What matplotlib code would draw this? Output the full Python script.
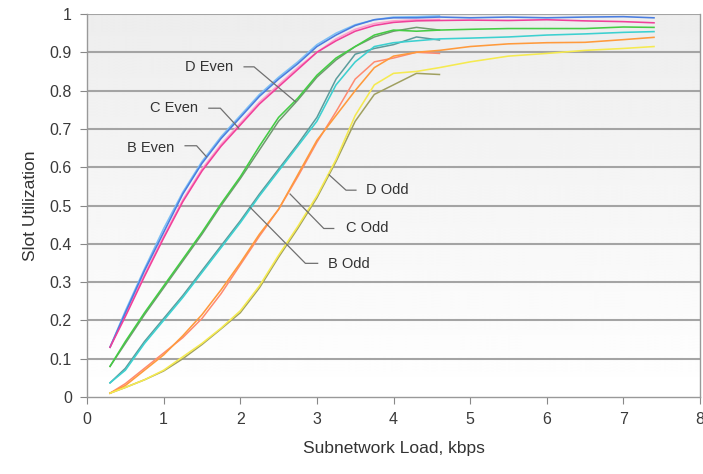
import numpy as np
import matplotlib
matplotlib.use("Agg")
import matplotlib.pyplot as plt

plt.rcParams['font.family'] = ['Liberation Sans', 'DejaVu Sans']

# offered load (kbps); the second run of each scenario stops at 4.6
load = [0.3, 0.5, 0.75, 1.0, 1.25, 1.5, 1.75, 2.0, 2.25, 2.5, 2.75, 3.0,
        3.25, 3.5, 3.75, 4.0, 4.3, 4.6, 5.0, 5.5, 6.0, 6.5, 7.0, 7.4]
load_short = load[:18]

b_even = [0.13, 0.22, 0.33, 0.43, 0.53, 0.61, 0.675, 0.73, 0.785, 0.83, 0.87, 0.915,
          0.945, 0.97, 0.985, 0.99, 0.99, 0.992, 0.99, 0.992, 0.99, 0.992, 0.993, 0.99]
b_even_2 = [0.13, 0.225, 0.335, 0.44, 0.535, 0.615, 0.68, 0.735, 0.79, 0.835, 0.875, 0.92,
            0.95, 0.972, 0.985, 0.992, 0.993, 0.995]
c_even = [0.13, 0.21, 0.315, 0.415, 0.51, 0.59, 0.655, 0.71, 0.765, 0.81, 0.855, 0.90,
          0.93, 0.955, 0.97, 0.978, 0.982, 0.983, 0.984, 0.983, 0.985, 0.982, 0.98, 0.977]
c_even_2 = [0.13, 0.215, 0.32, 0.42, 0.515, 0.595, 0.66, 0.715, 0.77, 0.815, 0.86, 0.90,
            0.935, 0.96, 0.975, 0.982, 0.985, 0.986]
d_even = [0.08, 0.145, 0.22, 0.29, 0.36, 0.43, 0.505, 0.575, 0.655, 0.73, 0.78, 0.84,
          0.885, 0.915, 0.945, 0.958, 0.955, 0.958, 0.96, 0.962, 0.962, 0.962, 0.966, 0.965]
d_even_2 = [0.08, 0.14, 0.215, 0.285, 0.355, 0.425, 0.50, 0.57, 0.645, 0.72, 0.775, 0.835,
            0.88, 0.915, 0.94, 0.955, 0.965, 0.958]
b_odd = [0.037, 0.07, 0.14, 0.20, 0.26, 0.325, 0.39, 0.455, 0.525, 0.59, 0.655, 0.72,
         0.815, 0.875, 0.915, 0.925, 0.93, 0.935, 0.937, 0.94, 0.945, 0.948, 0.952, 0.954]
b_odd_2 = [0.037, 0.075, 0.145, 0.205, 0.265, 0.33, 0.395, 0.46, 0.53, 0.595, 0.66, 0.73,
           0.83, 0.895, 0.91, 0.92, 0.94, 0.932]
c_odd = [0.01, 0.03, 0.07, 0.11, 0.16, 0.215, 0.28, 0.35, 0.425, 0.49, 0.58, 0.67,
         0.735, 0.80, 0.86, 0.89, 0.90, 0.905, 0.915, 0.922, 0.925, 0.926, 0.933, 0.939]
c_odd_2 = [0.01, 0.035, 0.075, 0.115, 0.155, 0.205, 0.27, 0.345, 0.42, 0.49, 0.575, 0.665,
           0.745, 0.83, 0.875, 0.885, 0.90, 0.897]
d_odd = [0.01, 0.025, 0.045, 0.07, 0.105, 0.14, 0.18, 0.225, 0.29, 0.37, 0.445, 0.525,
         0.62, 0.735, 0.815, 0.845, 0.85, 0.86, 0.875, 0.89, 0.897, 0.905, 0.91, 0.915]
d_odd_2 = [0.01, 0.025, 0.045, 0.068, 0.10, 0.137, 0.178, 0.22, 0.285, 0.365, 0.44, 0.52,
           0.615, 0.72, 0.79, 0.815, 0.845, 0.842]

series = [
    (b_even, b_even_2, '#4a7de0', '#7cc0f5'),
    (c_even, c_even_2, '#f0409a', '#ff9ccc'),
    (d_even, d_even_2, '#44cc44', '#6f9a6f'),
    (b_odd, b_odd_2, '#3cd0d0', '#5c9c9c'),
    (c_odd, c_odd_2, '#ff9a3c', '#ff8a70'),
    (d_odd, d_odd_2, '#f5ea50', '#a0a060'),
]

# name, text anchor (x, y), leader polyline xs, ys, alignment
labels = [
    ("D Even", 1.91, 0.862, [2.05, 2.18, 2.72], [0.862, 0.862, 0.771], 'right'),
    ("C Even", 1.45, 0.754, [1.59, 1.74, 1.98], [0.754, 0.754, 0.702], 'right'),
    ("B Even", 1.14, 0.651, [1.28, 1.43, 1.56], [0.656, 0.656, 0.627], 'right'),
    ("D Odd", 3.64, 0.540, [3.51, 3.38, 3.16], [0.540, 0.540, 0.580], 'left'),
    ("C Odd", 3.38, 0.440, [3.22, 3.09, 2.65], [0.440, 0.440, 0.530], 'left'),
    ("B Odd", 3.14, 0.347, [3.01, 2.85, 2.13], [0.349, 0.349, 0.495], 'left'),
]

fig = plt.figure(figsize=(7.03, 4.74), dpi=100)
ax = fig.add_axes([0.1238, 0.1624, 0.8719, 0.8081])

# white-to-grey plot area background
grad = np.linspace(1.0, 0.93, 256).reshape(-1, 1)
ax.imshow(grad, extent=[0, 8, 1, 0], aspect='auto', cmap='gray', vmin=0, vmax=1,
          zorder=0, interpolation='bicubic')

for gy in np.arange(0.1, 1.01, 0.1):
    ax.axhline(gy, color='#a4a4a4', lw=1.5, zorder=1)

for main, second, c1, c2 in series:
    ax.plot(load_short, second, color=c2, lw=1.1, zorder=2)
    ax.plot(load, main, color=c1, lw=1.15, zorder=3)

for name, tx, ty, lx, ly, ha in labels:
    ax.plot(lx, ly, color='#707070', lw=0.9, zorder=4)
    ax.text(tx, ty, name, ha=ha, va='center', fontsize=10.5, color='#333333', zorder=5)

ax.set_xlim(0, 8)
ax.set_ylim(0, 1)
ax.set_xticks(range(0, 9))
ax.set_yticks(np.round(np.arange(0, 1.01, 0.1), 1))
ax.set_yticklabels(['0'] + ['%.1f' % v for v in np.arange(0.1, 0.95, 0.1)] + ['1'])
ax.tick_params(axis='both', direction='out', length=5, color='#888888',
               labelsize=11.5, labelcolor='#3a3a3a', pad=6)

for side in ['left', 'bottom', 'right']:
    ax.spines[side].set_color('#999999')
    ax.spines[side].set_linewidth(1.0)
ax.spines['top'].set_visible(False)

ax.set_xlabel('Subnetwork Load, kbps', fontsize=12.5, color='#333333', labelpad=10)
ax.set_ylabel('Slot Utilization', fontsize=12.5, color='#333333', labelpad=8)

fig.savefig('out.png', dpi=100)
